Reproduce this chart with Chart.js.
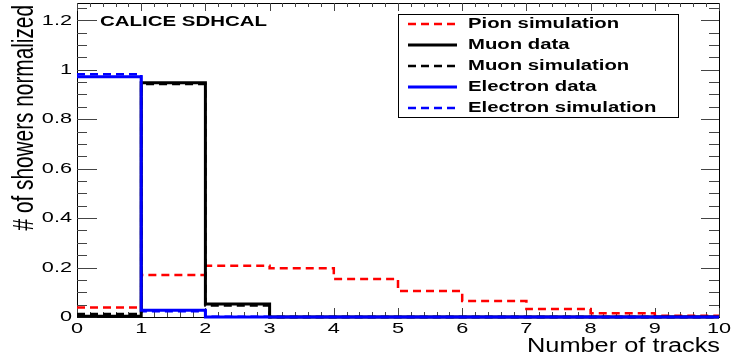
<!DOCTYPE html>
<html>
<head>
<meta charset="utf-8">
<script src="https://cdn.jsdelivr.net/npm/chart.js@4.4.3/dist/chart.umd.min.js"></script>
<style>
  html, body { margin: 0; padding: 0; background: #fff; }
  #wrap { width: 742px; height: 361px; }
</style>
</head>
<body>
<div id="wrap"><canvas id="tracks" width="742" height="361"></canvas></div>
<script>
// Number of tracks per shower, one value per unit-wide bin from 0 to 10
const binLow = [0, 1, 2, 3, 4, 5, 6, 7, 8, 9];
const pionSim = [0.038, 0.170, 0.207, 0.197, 0.154, 0.105, 0.065, 0.032, 0.015, 0.005];
const muonData = [0.003, 0.947, 0.053, 0, 0, 0, 0, 0, 0, 0];
const muonSim = [0.012, 0.942, 0.047, 0, 0, 0, 0, 0, 0, 0];
const electronData = [0.972, 0.027, 0, 0, 0, 0, 0, 0, 0, 0];
const electronSim = [0.982, 0.023, 0.001, 0, 0, 0, 0, 0, 0, 0];

const xMax = 10;
const yMax = 1.27;
const SX = 1.4; // horizontal text stretch (ROOT canvas aspect)
const FONT = '"Liberation Sans", Arial, Helvetica, sans-serif';

// histogram as step line: one point per bin low edge plus the last upper edge
function toSteps(values) {
    const pts = binLow.map((x, i) => ({ x: x, y: values[i] }));
    pts.push({ x: xMax, y: values[values.length - 1] });
    return pts;
}

function hist(label, values, color, dashed, width, order) {
    return {
        label: label,
        data: toSteps(values),
        borderColor: color,
        borderWidth: width,
        borderDash: dashed ? [8, 5] : [],
        stepped: 'before',
        pointRadius: 0,
        fill: false,
        clip: false,
        order: order
    };
}

function stretchText(ctx, text, x, y, align, baseline, sx) {
    ctx.save();
    ctx.translate(x, y);
    ctx.scale(sx || SX, 1);
    ctx.textAlign = align;
    ctx.textBaseline = baseline;
    ctx.fillText(text, 0, 0);
    ctx.restore();
}

const isStep = (v, step) => Math.abs(v / step - Math.round(v / step)) < 1e-6;

// ROOT-like frame: box, inward ticks on all four sides
const rootFrame = {
    id: 'rootFrame',
    beforeDatasetsDraw(chart) {
        const ctx = chart.ctx;
        const a = chart.chartArea;
        const xs = chart.scales.x, ys = chart.scales.y;
        ctx.save();
        ctx.strokeStyle = '#000';
        ctx.lineWidth = 1;
        ctx.strokeRect(a.left + 0.5, a.top + 0.5, a.right - a.left, a.bottom - a.top);

        ctx.strokeStyle = '#444';
        ctx.beginPath();
        // y ticks: major 0.2, minor 0.05
        for (let v = 0; v <= yMax + 1e-9; v += 0.05) {
            const y = Math.round(ys.getPixelForValue(v)) + 0.5;
            const major = isStep(v, 0.2);
            ctx.moveTo(a.left, y); ctx.lineTo(a.left + (major ? 20 : 10), y);
            ctx.moveTo(a.right, y); ctx.lineTo(a.right - (major ? 18 : 10), y);
        }
        // x ticks: major 1, minor 0.2
        for (let v = 0; v <= xMax + 1e-9; v += 0.2) {
            const x = Math.round(xs.getPixelForValue(v)) + 0.5;
            const major = isStep(v, 1);
            ctx.moveTo(x, a.bottom); ctx.lineTo(x, a.bottom - (major ? 9 : 5));
            ctx.moveTo(x, a.top); ctx.lineTo(x, a.top + (major ? 8 : 4));
        }
        ctx.stroke();
        ctx.restore();
    },
    afterDraw(chart) {
        const ctx = chart.ctx;
        const a = chart.chartArea;
        const xs = chart.scales.x, ys = chart.scales.y;
        ctx.save();
        ctx.fillStyle = '#000';

        // tick labels
        ctx.font = '15.5px ' + FONT;
        xs.ticks.forEach(t => {
            stretchText(ctx, String(t.value), xs.getPixelForValue(t.value), a.bottom + 4, 'center', 'top');
        });
        ys.ticks.filter(t => isStep(t.value, 0.2)).forEach(t => {
            const v = t.value;
            const txt = (v === 0 || v === 1) ? String(v) : v.toFixed(1);
            stretchText(ctx, txt, a.left - 5, ys.getPixelForValue(v), 'right', 'middle');
        });

        // axis titles
        ctx.font = '19.5px ' + FONT;
        stretchText(ctx, 'Number of tracks', a.right + 1, 352, 'right', 'alphabetic', 1.3);

        ctx.save();
        ctx.font = '20.8px ' + FONT;
        ctx.translate(33, a.top + 2);
        ctx.scale(SX, 1);
        ctx.rotate(-Math.PI / 2);
        ctx.textAlign = 'right';
        ctx.textBaseline = 'alphabetic';
        ctx.fillText('# of showers normalized', 0, 0);
        ctx.restore();

        // experiment tag
        ctx.font = 'bold 14px ' + FONT;
        stretchText(ctx, 'CALICE SDHCAL', 100, 22, 'left', 'middle', 1.46);

        // legend
        const box = { x: 398.5, y: 14.5, w: 280, h: 103 };
        ctx.strokeStyle = '#000';
        ctx.lineWidth = 1;
        ctx.strokeRect(box.x, box.y, box.w, box.h);
        ctx.font = 'bold 14px ' + FONT;
        chart.data.datasets.forEach((ds, row) => {
            const cy = 24 + row * 21;
            ctx.save();
            ctx.strokeStyle = ds.borderColor;
            ctx.lineWidth = ds.borderDash.length ? 2.5 : 3;
            ctx.setLineDash(ds.borderDash);
            ctx.beginPath();
            ctx.moveTo(408, cy); ctx.lineTo(457, cy);
            ctx.stroke();
            ctx.restore();
            stretchText(ctx, ds.label, 468, cy, 'left', 'middle', 1.45);
        });
        ctx.restore();
    }
};

new Chart(document.getElementById('tracks'), {
    type: 'line',
    data: {
        datasets: [
            hist('Pion simulation', pionSim, '#ff0000', true, 2.5, 4),
            hist('Muon data', muonData, '#000000', false, 3, 2),
            hist('Muon simulation', muonSim, '#000000', true, 2.5, 1),
            hist('Electron data', electronData, '#0000ff', false, 3, 0),
            hist('Electron simulation', electronSim, '#0000ff', true, 2.5, 3)
        ]
    },
    options: {
        responsive: false,
        animation: false,
        events: [],
        layout: { padding: { left: 0, top: 3, right: 23, bottom: 0 } },
        plugins: { legend: { display: false }, tooltip: { enabled: false } },
        scales: {
            x: {
                type: 'linear', min: 0, max: xMax,
                ticks: { display: false, stepSize: 1 },
                grid: { display: false }, border: { display: false },
                afterFit(s) { s.height = 44; }
            },
            y: {
                type: 'linear', min: 0, max: yMax,
                ticks: { display: false, stepSize: 0.2 },
                grid: { display: false }, border: { display: false },
                afterFit(s) { s.width = 77; }
            }
        }
    },
    plugins: [rootFrame]
});
</script>
</body>
</html>
